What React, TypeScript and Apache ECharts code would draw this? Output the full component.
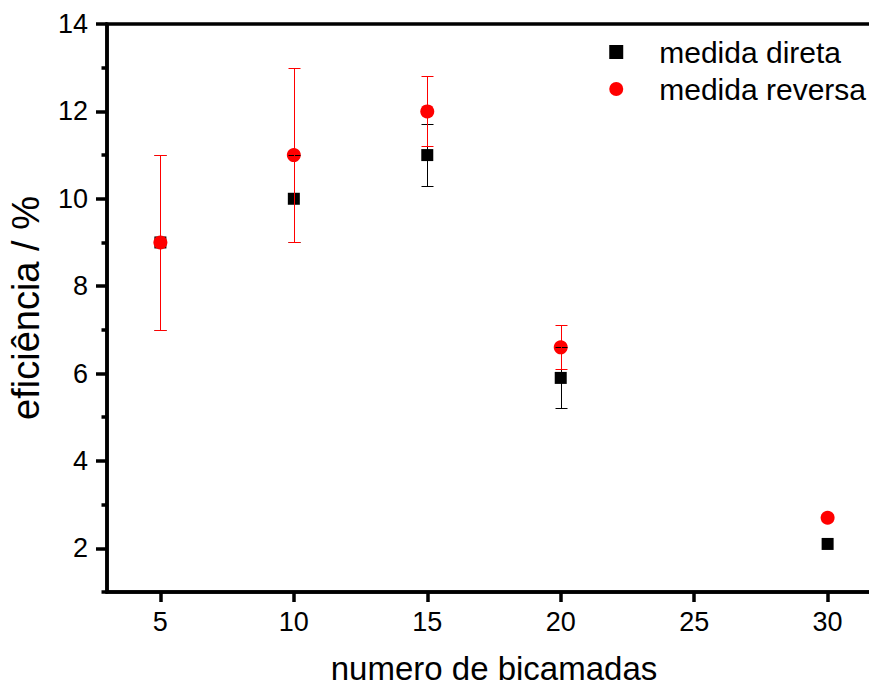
import React, { useEffect, useRef } from "react";
import * as echarts from "echarts";

const camadas = [5, 10, 15, 20, 30];
const direta = [9, 10, 11, 5.9, 2.1];
const diretaErro = [2, 1, 0.7, 0.7, 0];
const reversa = [9, 11, 12, 6.6, 2.7];
const reversaErro = [2, 2, 0.8, 0.5, 0];
const xTicks = [5, 10, 15, 20, 25, 30];
const yTicks = [2, 4, 6, 8, 10, 12, 14];
const yMinorTicks = [1, 3, 5, 7, 9, 11, 13];
const seriesNames = ["medida direta", "medida reversa"];
const xTitle = "numero de bicamadas";
const yTitle = "eficiência / %";

const FONT = "Liberation Sans, Arial, sans-serif";

function errorBar(color: string) {
  return (params: any, api: any) => {
    const x = api.value(0);
    const y = api.value(1);
    const e = api.value(2);
    if (!e) return null;
    const top = api.coord([x, y + e]);
    const bot = api.coord([x, y - e]);
    const cx = Math.round(top[0]) + 0.5;
    const ty = Math.round(top[1]) + 0.5;
    const by = Math.round(bot[1]) + 0.5;
    const hw = 6;
    const style = { stroke: color, lineWidth: 1 };
    return {
      type: "group",
      children: [
        { type: "line", shape: { x1: cx, y1: ty, x2: cx, y2: by }, style },
        { type: "line", shape: { x1: cx - hw, y1: ty, x2: cx + hw, y2: ty }, style },
        { type: "line", shape: { x1: cx - hw, y1: by, x2: cx + hw, y2: by }, style },
      ],
    };
  };
}

export default function App() {
  const ref = useRef<HTMLDivElement>(null);
  useEffect(() => {
    if (!ref.current) return;
    const chart = echarts.init(ref.current, null, { renderer: "svg" });
    const axisLineStyle = { color: "#000", width: 3.5 };
    const option: any = {
      animation: false,
      backgroundColor: "#fff",
      grid: {
        show: true,
        borderColor: "#000",
        borderWidth: 3.5,
        left: 107,
        top: 24,
        right: -12,
        bottom: 94,
        outerBoundsMode: "none",
        containLabel: false,
      },
      legend: {
        orient: "vertical",
        right: 3,
        top: 37,
        align: "left",
        padding: 0,
        itemWidth: 76,
        itemHeight: 14,
        itemGap: 7,
        textStyle: { fontSize: 30, lineHeight: 30, color: "#000", fontFamily: FONT },
        data: [
          { name: seriesNames[0], icon: "path://M0,0H10V10H0Z" },
          { name: seriesNames[1], icon: "path://M0,5A5,5 0 1,0 10,5A5,5 0 1,0 0,5Z" },
        ],
      },
      xAxis: {
        type: "value",
        min: 3,
        max: 32,
        axisLine: { show: true, lineStyle: axisLineStyle },
        axisTick: { show: true, customValues: xTicks, length: 10, lineStyle: axisLineStyle },
        axisLabel: { customValues: xTicks, fontSize: 27, color: "#000", margin: 16, fontFamily: FONT },
        splitLine: { show: false },
        name: xTitle,
        nameLocation: "middle",
        nameGap: 60,
        nameTextStyle: { fontSize: 33, color: "#000", fontFamily: FONT },
      },
      yAxis: [
        {
          type: "value",
          min: 1,
          max: 14,
          axisLine: { show: true, lineStyle: axisLineStyle },
          axisTick: { show: true, customValues: yTicks, length: 11, lineStyle: axisLineStyle },
          axisLabel: { customValues: yTicks, fontSize: 27, color: "#000", margin: 19, fontFamily: FONT },
          splitLine: { show: false },
          name: yTitle,
          nameLocation: "middle",
          nameGap: 62,
          nameTextStyle: { fontSize: 38, color: "#000", fontFamily: FONT },
        },
        {
          type: "value",
          min: 1,
          max: 14,
          position: "left",
          axisLine: { show: false },
          axisTick: { show: true, customValues: yMinorTicks, length: 5.5, lineStyle: axisLineStyle },
          axisLabel: { show: false },
          splitLine: { show: false },
        },
      ],
      series: [
        {
          name: seriesNames[0],
          type: "scatter",
          symbol: "rect",
          symbolSize: 12,
          itemStyle: { color: "#000", opacity: 1 },
          z: 2,
          data: camadas.map((c, i) => [c, direta[i]]),
        },
        {
          name: seriesNames[1],
          type: "scatter",
          symbol: "circle",
          symbolSize: 14,
          itemStyle: { color: "#ff0000", opacity: 1 },
          z: 3,
          data: camadas.map((c, i) => [c, reversa[i]]),
        },
        {
          name: "erro direta",
          type: "custom",
          renderItem: errorBar("#000"),
          encode: { x: 0, y: 1 },
          z: 4,
          data: camadas.map((c, i) => [c, direta[i], diretaErro[i]]),
        },
        {
          name: "erro reversa",
          type: "custom",
          renderItem: errorBar("#ff0000"),
          encode: { x: 0, y: 1 },
          z: 5,
          data: camadas.map((c, i) => [c, reversa[i], reversaErro[i]]),
        },
      ],
    };
    chart.setOption(option);
    return () => chart.dispose();
  }, []);
  return (
    <div
      ref={ref}
      style={{ position: "fixed", left: 0, top: 0, width: 869, height: 686, background: "#fff" }}
    />
  );
}
